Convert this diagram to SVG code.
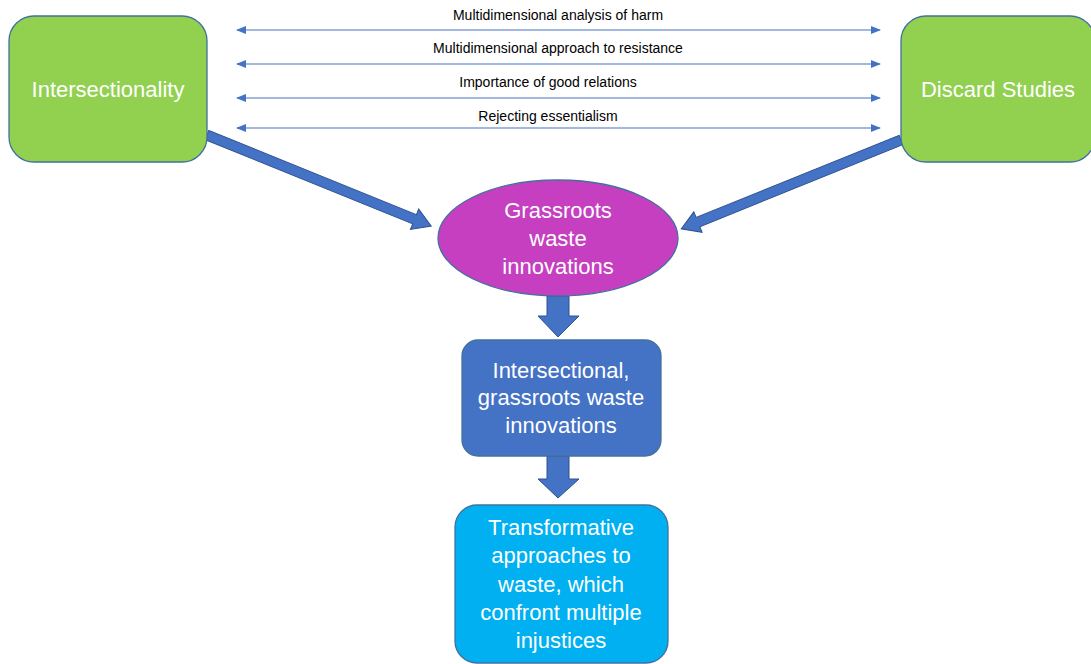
<svg xmlns="http://www.w3.org/2000/svg" width="1091" height="664" viewBox="0 0 1091 664">
<defs>
<marker id="ah" markerWidth="10" markerHeight="8" refX="9" refY="4" orient="auto-start-reverse" markerUnits="userSpaceOnUse">
<path d="M0,0 L10,4 L0,8 Z" fill="#4472C4"/>
</marker>
</defs>
<style>
.node{stroke:#41719C;stroke-width:1.3}
.big{font-family:"Liberation Sans",Arial,sans-serif;font-size:22px;fill:#ffffff;text-anchor:middle}
.lbl{font-family:"Liberation Sans",Arial,sans-serif;font-size:14px;fill:#000000;text-anchor:middle}
.thin{stroke:#4472C4;stroke-width:1.2;fill:none;marker-start:url(#ah);marker-end:url(#ah)}
.block{fill:#4472C4;stroke:#2F528F;stroke-width:1}
</style>
<rect width="1091" height="664" fill="#ffffff"/>
<g id="connectors">
<line class="thin" x1="237" y1="30" x2="880" y2="30"/>
<line class="thin" x1="237" y1="64" x2="880" y2="64"/>
<line class="thin" x1="237" y1="98" x2="880" y2="98"/>
<line class="thin" x1="237" y1="128" x2="880" y2="128"/>
<text class="lbl" x="558" y="20">Multidimensional analysis of harm</text>
<text class="lbl" x="558" y="53">Multidimensional approach to resistance</text>
<text class="lbl" x="548" y="87">Importance of good relations</text>
<text class="lbl" x="548" y="121">Rejecting essentialism</text>
<polygon class="block" transform="translate(207,135) rotate(22.1)" points="0,-5 224,-5 224,-11 242,0 224,11 224,5 0,5"/>
<polygon class="block" transform="translate(901,140) rotate(158)" points="0,-5 219,-5 219,-11 237,0 219,11 219,5 0,5"/>
<polygon class="block" points="547,296 569,296 569,316 579,316 558,337 538,316 547,316"/>
<polygon class="block" points="547,456 569,456 569,479 579,479 558,498 538,479 547,479"/>
</g>
<g id="intersectionality">
<rect class="node" x="9" y="16" width="198" height="146" rx="25" fill="#92D050"/>
<text class="big" x="108" y="97">Intersectionality</text>
</g>
<g id="discard">
<rect class="node" x="901" y="16" width="194" height="146" rx="25" fill="#92D050"/>
<text class="big" x="998" y="97">Discard Studies</text>
</g>
<g id="grassroots">
<ellipse class="node" cx="558" cy="238" rx="120" ry="58" fill="#C53FC0"/>
<text class="big" x="558" y="218">Grassroots</text>
<text class="big" x="558" y="246">waste</text>
<text class="big" x="558" y="274">innovations</text>
</g>
<g id="intersectional">
<rect class="node" x="462" y="340" width="199" height="116" rx="16" fill="#4472C4"/>
<text class="big" x="561" y="378">Intersectional,</text>
<text class="big" x="561" y="405">grassroots waste</text>
<text class="big" x="561" y="433">innovations</text>
</g>
<g id="transformative">
<rect class="node" x="455" y="505" width="213" height="158" rx="22" fill="#00B0F0"/>
<text class="big" x="561" y="535">Transformative</text>
<text class="big" x="561" y="563">approaches to</text>
<text class="big" x="561" y="592">waste, which</text>
<text class="big" x="561" y="620">confront multiple</text>
<text class="big" x="561" y="648">injustices</text>
</g>
</svg>
